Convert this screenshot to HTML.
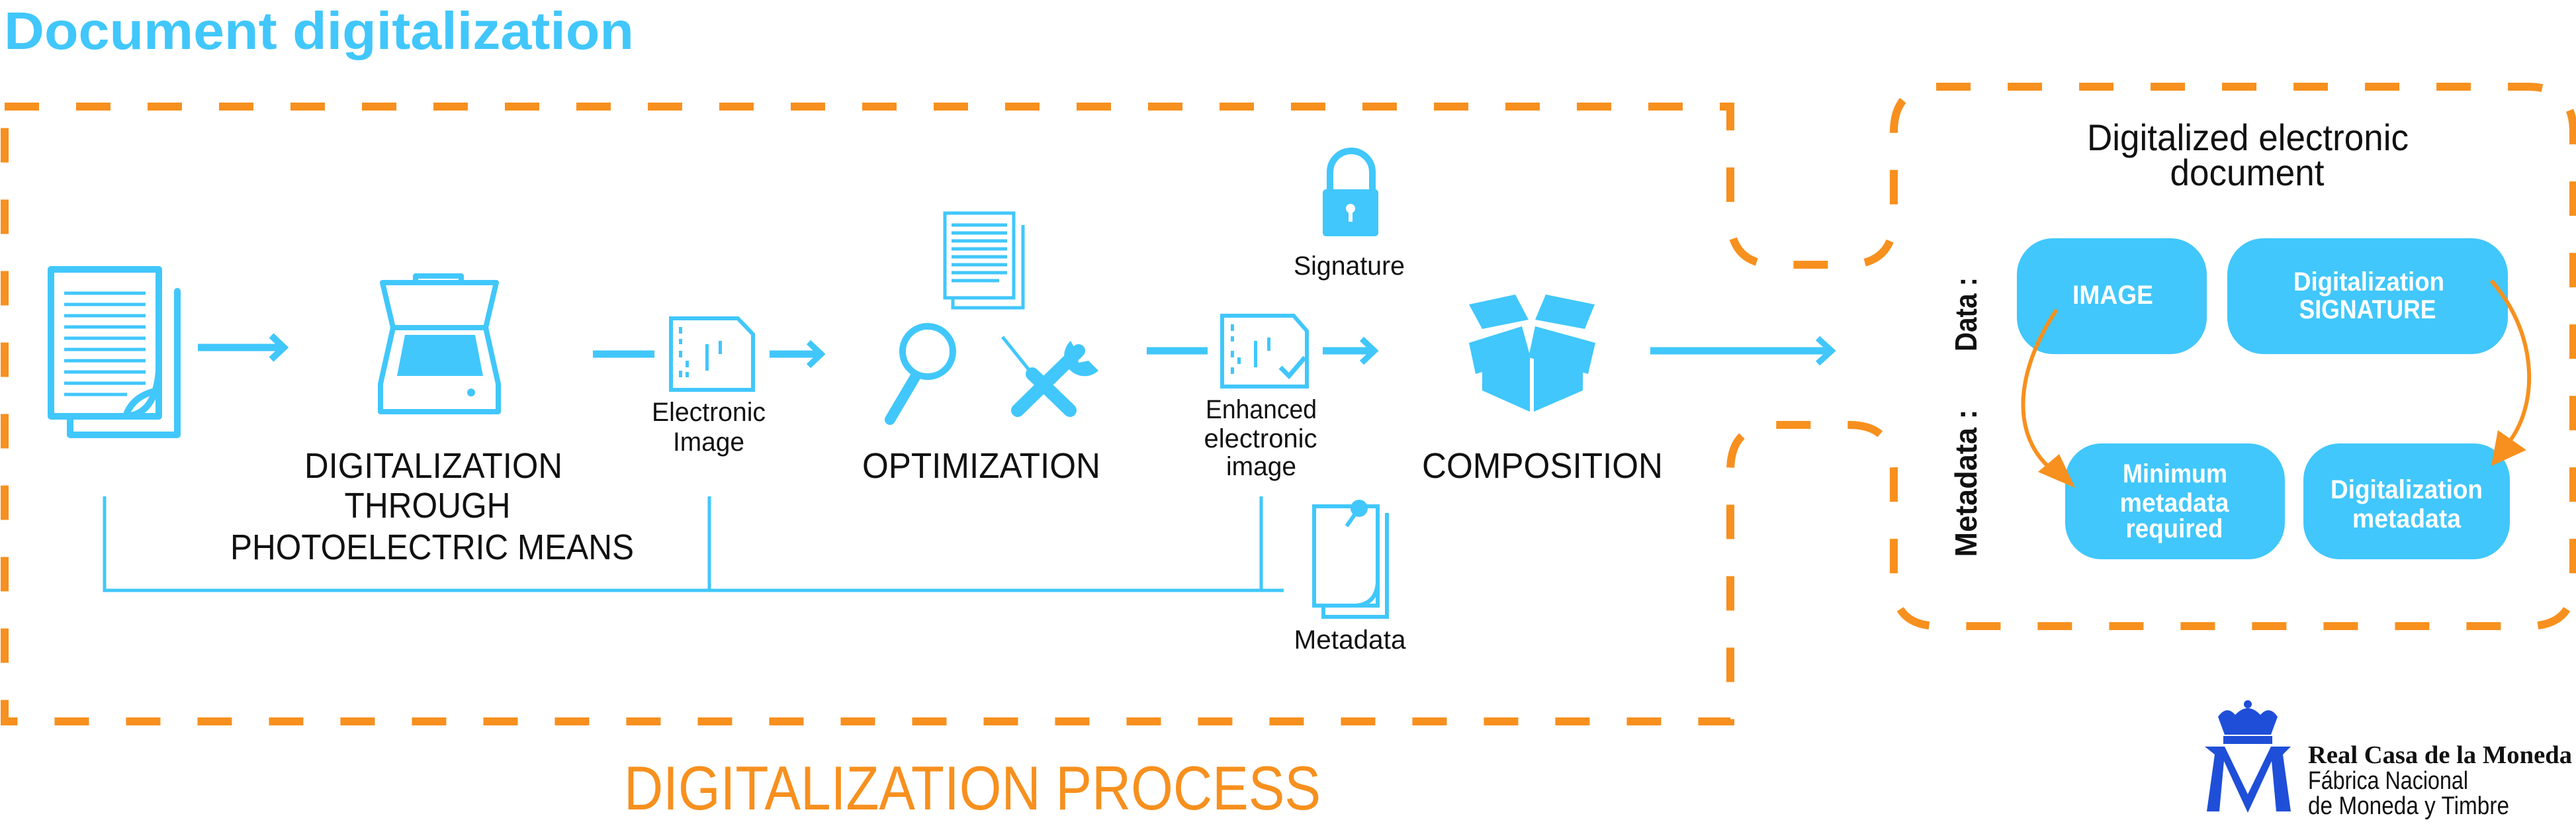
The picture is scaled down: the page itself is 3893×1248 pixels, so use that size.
<!DOCTYPE html>
<html><head><meta charset="utf-8"><style>
html,body{margin:0;padding:0;background:#fff;}
svg{display:block;}
text{font-family:"Liberation Sans Narrow","Liberation Sans",sans-serif;}
</style></head><body>
<svg width="3893" height="1248" viewBox="0 0 3893 1248" xmlns="http://www.w3.org/2000/svg">
<!-- Title -->
<text x="6" y="74" font-size="80" font-weight="bold" fill="#41c7fb" textLength="952" lengthAdjust="spacingAndGlyphs">Document digitalization</text>

<!-- dashed outline -->
<path d="M 7 161 H 2615 V 330 Q 2615 400 2685 400 H 2790 Q 2862 400 2862 330 V 200 Q 2862 131 2930 131 H 3820 Q 3889 131 3889 200 V 880 Q 3889 946 3820 946 H 2930 Q 2862 946 2862 880 V 712 Q 2862 642 2795 642 H 2682 Q 2615 642 2615 712 V 1090 H 7 Z" fill="none" stroke="#f7901e" stroke-width="12" stroke-dasharray="52 56"/>

<text x="943" y="1223" font-size="94" fill="#f7901e" textLength="1053" lengthAdjust="spacingAndGlyphs">DIGITALIZATION PROCESS</text>

<g stroke="#41c7fb" fill="none" stroke-width="10" stroke-linecap="round" stroke-linejoin="round">
<!-- document -->
<path d="M106 440 V657 H268 V440"/>
<rect x="77" y="407" width="163" height="222" fill="#fff"/>
<path d="M240 560 Q235 626 190 629" />
<path d="M190 629 Q200 598 238 590"/>
</g>
<g stroke="#41c7fb" stroke-width="5">
<line x1="97" y1="443" x2="220" y2="443"/><line x1="97" y1="460" x2="220" y2="460"/><line x1="97" y1="477" x2="220" y2="477"/><line x1="97" y1="494" x2="220" y2="494"/><line x1="97" y1="511" x2="220" y2="511"/><line x1="97" y1="528" x2="220" y2="528"/><line x1="97" y1="545" x2="220" y2="545"/><line x1="97" y1="562" x2="220" y2="562"/><line x1="97" y1="579" x2="220" y2="579"/><line x1="97" y1="596" x2="192" y2="596"/>
</g>

<!-- arrows / lines -->
<g stroke="#41c7fb" stroke-width="11" fill="none" stroke-linecap="butt">
<line x1="299" y1="525" x2="426" y2="525"/><path d="M410 507 L429 525 L410 543" stroke-width="10"/>
<line x1="896" y1="535" x2="989" y2="535"/>
<line x1="1163" y1="535" x2="1237" y2="535"/><path d="M1222 517 L1241 535 L1222 553" stroke-width="9"/>
<line x1="1733" y1="530" x2="1825" y2="530"/>
<line x1="1999" y1="530" x2="2073" y2="530"/><path d="M2058 512 L2077 530 L2058 548" stroke-width="9"/>
<line x1="2494" y1="530" x2="2764" y2="530"/><path d="M2747 511 L2768 530 L2747 549" stroke-width="9"/>
</g>

<!-- scanner -->
<g stroke="#41c7fb" stroke-width="8" fill="none" stroke-linejoin="round">
<path d="M628 427 V417 H697 V427"/>
<path d="M578 427 H750 L734 495 H594 Z"/>
<path d="M594 495 H734 L753 580 V622 H575 V580 Z"/>
</g>
<path d="M612 506 H718 L730 568 H600 Z" fill="#41c7fb"/>
<circle cx="712" cy="593" r="6" fill="#41c7fb"/>

<!-- electronic image icons -->
<g stroke="#41c7fb" stroke-width="6" fill="none">
<path d="M1014 481 H1115 L1138 505 V589 H1014 Z"/>
<path d="M1847 477 H1955 L1975 500 V584 H1847 Z"/>
</g>
<g fill="#41c7fb">
<rect x="1026" y="494" width="5" height="10"/><rect x="1026" y="512" width="5" height="8"/><rect x="1026" y="530" width="5" height="10"/><rect x="1036" y="545" width="5" height="10"/><rect x="1026" y="560" width="5" height="10"/><rect x="1036" y="562" width="5" height="8"/><rect x="1066" y="520" width="5" height="40"/><rect x="1086" y="515" width="5" height="20"/>
<rect x="1860" y="490" width="5" height="10"/><rect x="1860" y="508" width="5" height="8"/><rect x="1860" y="530" width="5" height="10"/><rect x="1870" y="540" width="5" height="10"/><rect x="1860" y="555" width="5" height="10"/><rect x="1895" y="515" width="5" height="40"/><rect x="1915" y="510" width="5" height="20"/>
</g>
<path d="M1935 555 L1948 568 L1972 540" stroke="#41c7fb" stroke-width="7" fill="none"/>

<!-- optimization doc -->
<g stroke="#41c7fb" stroke-width="5" fill="none">
<path d="M1440 340 V465 H1546 V340"/>
<rect x="1428" y="322" width="104" height="128" fill="#fff"/>
<line x1="1438" y1="340" x2="1522" y2="340"/><line x1="1438" y1="352" x2="1522" y2="352"/><line x1="1438" y1="364" x2="1522" y2="364"/><line x1="1438" y1="376" x2="1522" y2="376"/><line x1="1438" y1="388" x2="1522" y2="388"/><line x1="1438" y1="400" x2="1522" y2="400"/><line x1="1438" y1="412" x2="1522" y2="412"/><line x1="1438" y1="424" x2="1510" y2="424"/>
</g>
<!-- magnifier -->
<ellipse cx="1402" cy="531" rx="38" ry="38" stroke="#41c7fb" stroke-width="10" fill="none"/>
<line x1="1384" y1="568" x2="1345" y2="634" stroke="#41c7fb" stroke-width="16" stroke-linecap="round"/>
<!-- tools -->
<line x1="1515" y1="509" x2="1560" y2="565" stroke="#41c7fb" stroke-width="5"/>
<line x1="1560" y1="565" x2="1617" y2="620" stroke="#41c7fb" stroke-width="20" stroke-linecap="round"/>
<line x1="1538" y1="620" x2="1630" y2="530" stroke="#41c7fb" stroke-width="20" stroke-linecap="round"/>
<path d="M1618 515 A30 30 0 1 0 1660 560 L1645 545 L1630 548 L1628 533 Z" fill="#41c7fb"/>

<!-- lock -->
<path d="M2010 290 V260 A32 32 0 0 1 2074 260 V290" stroke="#41c7fb" stroke-width="10" fill="none"/>
<rect x="1999" y="286" width="84" height="71" rx="5" fill="#41c7fb"/>
<circle cx="2041" cy="315" r="7" fill="#fff"/><rect x="2038" y="315" width="6" height="20" fill="#fff"/>

<!-- box -->
<g fill="#41c7fb">
<path d="M2220 460 L2290 445 L2310 483 L2240 497 Z"/>
<path d="M2320 483 L2336 445 L2410 460 L2395 497 Z"/>
<path d="M2220 518 L2300 493 L2313 540 L2230 565 Z"/>
<path d="M2310 540 L2320 493 L2411 518 L2400 565 Z"/>
<path d="M2240 560 L2312 540 L2312 622 L2240 590 Z"/>
<path d="M2318 540 L2392 560 L2392 590 L2318 622 Z"/>
</g>

<!-- metadata icon -->
<g stroke="#41c7fb" stroke-width="6" fill="none">
<path d="M2000 775 V932 H2096 V775"/>
<rect x="1986" y="765" width="96" height="150" fill="#fff"/>
<path d="M2082 880 Q2080 912 2050 915"/>
</g>
<circle cx="2054" cy="768" r="13" fill="#41c7fb"/>
<line x1="2054" y1="768" x2="2035" y2="795" stroke="#41c7fb" stroke-width="6"/>

<!-- bracket -->
<g stroke="#41c7fb" stroke-width="5" fill="none">
<path d="M158 750 V892 H1940"/>
<line x1="1072" y1="750" x2="1072" y2="892"/>
<line x1="1906" y1="750" x2="1906" y2="892"/>
</g>

<!-- labels -->
<g fill="#111">
<text x="655" y="722" font-size="54" text-anchor="middle" textLength="390" lengthAdjust="spacingAndGlyphs">DIGITALIZATION</text>
<text x="646" y="782" font-size="54" text-anchor="middle" textLength="251" lengthAdjust="spacingAndGlyphs">THROUGH</text>
<text x="653" y="845" font-size="54" text-anchor="middle" textLength="610" lengthAdjust="spacingAndGlyphs">PHOTOELECTRIC MEANS</text>
<text x="1071" y="636" font-size="40" text-anchor="middle" textLength="172" lengthAdjust="spacingAndGlyphs">Electronic</text>
<text x="1071" y="681" font-size="40" text-anchor="middle" textLength="108" lengthAdjust="spacingAndGlyphs">Image</text>
<text x="1483" y="722" font-size="54" text-anchor="middle" textLength="360" lengthAdjust="spacingAndGlyphs">OPTIMIZATION</text>
<text x="1906" y="632" font-size="40" text-anchor="middle" textLength="168" lengthAdjust="spacingAndGlyphs">Enhanced</text>
<text x="1905" y="676" font-size="40" text-anchor="middle" textLength="171" lengthAdjust="spacingAndGlyphs">electronic</text>
<text x="1906" y="718" font-size="40" text-anchor="middle" textLength="106" lengthAdjust="spacingAndGlyphs">image</text>
<text x="2039" y="415" font-size="40" text-anchor="middle" textLength="168" lengthAdjust="spacingAndGlyphs">Signature</text>
<text x="2040" y="980" font-size="40" text-anchor="middle" textLength="169" lengthAdjust="spacingAndGlyphs">Metadata</text>
<text x="2331" y="722" font-size="54" text-anchor="middle" textLength="364" lengthAdjust="spacingAndGlyphs">COMPOSITION</text>
<text x="3397" y="227" font-size="56" text-anchor="middle" textLength="486" lengthAdjust="spacingAndGlyphs">Digitalized electronic</text>
<text x="3396" y="280" font-size="56" text-anchor="middle" textLength="233" lengthAdjust="spacingAndGlyphs">document</text>
<text transform="translate(2987 475) rotate(-90)" font-weight="bold" font-size="46" text-anchor="middle" style="font-family:'Liberation Sans',sans-serif" textLength="112" lengthAdjust="spacingAndGlyphs">Data :</text>
<text transform="translate(2987 730) rotate(-90)" font-weight="bold" font-size="46" text-anchor="middle" style="font-family:'Liberation Sans',sans-serif" textLength="223" lengthAdjust="spacingAndGlyphs">Metadata :</text>
</g>

<!-- right boxes -->
<g fill="#41c7fb">
<rect x="3048" y="360" width="287" height="175" rx="55"/>
<rect x="3366" y="360" width="424" height="175" rx="55"/>
<rect x="3121" y="670" width="332" height="175" rx="55"/>
<rect x="3481" y="670" width="312" height="175" rx="55"/>
</g>
<g fill="#fff" font-weight="bold" text-anchor="middle">
<text x="3193" y="459" font-size="40" textLength="122" lengthAdjust="spacingAndGlyphs">IMAGE</text>
<text x="3580" y="439" font-size="40" textLength="228" lengthAdjust="spacingAndGlyphs">Digitalization</text>
<text x="3578" y="481" font-size="40" textLength="207" lengthAdjust="spacingAndGlyphs">SIGNATURE</text>
<text x="3287" y="729" font-size="40" textLength="158" lengthAdjust="spacingAndGlyphs">Minimum</text>
<text x="3286" y="773" font-size="40" textLength="165" lengthAdjust="spacingAndGlyphs">metadata</text>
<text x="3286" y="812" font-size="40" textLength="147" lengthAdjust="spacingAndGlyphs">required</text>
<text x="3637" y="753" font-size="40" textLength="230" lengthAdjust="spacingAndGlyphs">Digitalization</text>
<text x="3637" y="797" font-size="40" textLength="164" lengthAdjust="spacingAndGlyphs">metadata</text>
</g>

<!-- orange arrows -->
<path d="M3108 468 C3040 570 3040 670 3112 718" stroke="#f7901e" stroke-width="6" fill="none"/>
<path d="M3136 737 L3080 713 L3112 686 Z" fill="#f7901e"/>
<path d="M3765 424 C3840 510 3835 620 3786 675" stroke="#f7901e" stroke-width="6" fill="none"/>
<path d="M3765 704 L3775 650 L3818 680 Z" fill="#f7901e"/>

<!-- logo -->
<g fill="#1f4fd8">
<path d="M3352 1083 Q3365 1065 3378 1080 Q3397 1060 3416 1080 Q3430 1065 3442 1083 L3432 1110 H3362 Z"/>
<rect x="3360" y="1112" width="74" height="12"/>
<circle cx="3397" cy="1064" r="6"/>
<path d="M3335 1226 L3347 1140 L3332 1128 H3362 L3397 1200 L3432 1128 H3462 L3450 1140 L3462 1226 H3440 L3433 1150 L3397 1228 L3361 1150 L3354 1226 Z"/>
</g>
<text x="3488" y="1153" font-size="38" font-weight="bold" fill="#111" style="font-family:'Liberation Serif',serif" textLength="399" lengthAdjust="spacingAndGlyphs">Real Casa de la Moneda</text>
<text x="3488" y="1192" font-size="38" fill="#111" textLength="242" lengthAdjust="spacingAndGlyphs">Fábrica Nacional</text>
<text x="3488" y="1230" font-size="38" fill="#111" textLength="304" lengthAdjust="spacingAndGlyphs">de Moneda y Timbre</text>
</svg>
</body></html>
